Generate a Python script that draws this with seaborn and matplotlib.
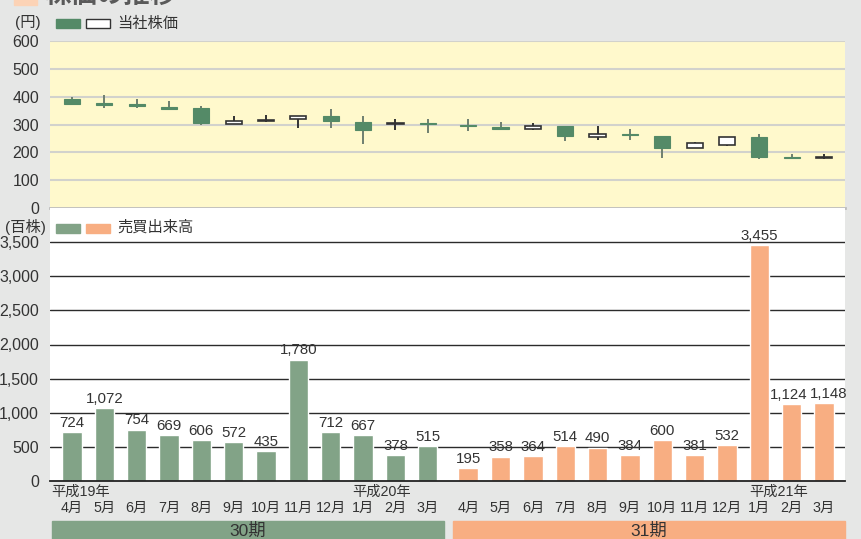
import matplotlib
matplotlib.use("Agg")
import matplotlib.pyplot as plt
import matplotlib.patches as mpatches
import matplotlib.transforms as mtransforms
import numpy as np
import pandas as pd
import seaborn as sns

# ---- data -------------------------------------------------------------
months = ["4月", "5月", "6月", "7月", "8月", "9月", "10月", "11月", "12月", "1月", "2月", "3月"]
periods = ["30期"] * 12 + ["31期"] * 12

# monthly share price (円)
price_open = [390, 376, 373, 364, 361, 303, 312, 320, 331, 310, 301, 304,
              298, 292, 284, 296, 255, 267, 260, 214, 225, 256, 185, 178]
price_high = [399, 407, 392, 386, 368, 329, 334, 331, 354, 330, 320, 320,
              318, 310, 306, 296, 295, 285, 260, 238, 256, 267, 194, 193]
price_low = [372, 359, 360, 351, 300, 302, 309, 286, 286, 229, 279, 271,
             276, 282, 279, 240, 243, 243, 181, 214, 222, 177, 175, 175]
price_close = [373, 369, 366, 355, 304, 313, 316, 331, 312, 279, 304, 302,
               295, 283, 296, 258, 267, 261, 214, 234, 256, 185, 179, 183]

# monthly trading volume (百株)
volume = [724, 1072, 754, 669, 606, 572, 435, 1780, 712, 667, 378, 515,
          195, 358, 364, 514, 490, 384, 600, 381, 532, 3455, 1124, 1148]

year_labels = ["平成19年", "平成20年", "平成21年"]
year_label_index = [0, 9, 21]

# ---- style ------------------------------------------------------------
sns.set_theme(style="white")
plt.rcParams["font.family"] = ["Liberation Sans", "Noto Sans CJK JP", "DejaVu Sans"]

BG = "#e6e7e6"
YELLOW = "#fff9cc"
CANDLE_GREEN = "#548a67"
BAR_GREEN = "#82a387"
BAR_ORANGE = "#f8ae82"
TEXT = "#333333"

W, H = 862, 539
fig = plt.figure(figsize=(W / 100, H / 100), dpi=100, facecolor=BG)


def fx(px):
    return px / W


def fy(py):
    return 1 - py / H


# x positions: two fiscal periods separated by a small gap
gap = 0.25
pos = np.array([i if i < 12 else i + gap for i in range(24)], dtype=float)
xlim = (-0.68, 23.25 + 0.65)

ax_left, ax_right = 50, 845
ax1 = fig.add_axes([fx(ax_left), fy(208), fx(ax_right - ax_left), (208 - 41) / H])
ax2 = fig.add_axes([fx(ax_left), fy(481), fx(ax_right - ax_left), (481 - 208) / H])

# ---- share price candlesticks -----------------------------------------
ax1.set_facecolor(YELLOW)
for y in range(100, 700, 100):
    ax1.axhline(y, color="#d2d2cc", lw=1.5, zorder=1)
for x, o, h, l, c in zip(pos, price_open, price_high, price_low, price_close):
    up = c >= o
    ax1.vlines(x, l, h, color="#333333" if up else "#6f7f70", lw=1.4, zorder=2)
    lo, hi = min(o, c), max(o, c)
    height = max(hi - lo, 1.5)
    if up:
        ax1.bar(x, height, bottom=lo, width=0.5, color="white",
                edgecolor="#333333", linewidth=1.2, zorder=3)
    else:
        ax1.bar(x, height, bottom=lo, width=0.5, color=CANDLE_GREEN,
                edgecolor=CANDLE_GREEN, linewidth=0.8, zorder=3)
ax1.set_xlim(*xlim)
ax1.set_ylim(0, 600)
ax1.set_yticks(range(0, 700, 100))
ax1.set_xticks([])
ax1.tick_params(axis="y", length=0, pad=8, labelsize=11.5, labelcolor=TEXT)
for s in ["top", "right", "left"]:
    ax1.spines[s].set_visible(False)
ax1.spines["bottom"].set_color("#bdbdbd")
ax1.spines["bottom"].set_linewidth(2)

# ---- trading volume bars ----------------------------------------------
df = pd.DataFrame({"pos": pos, "volume": volume, "period": periods})
ax2.set_facecolor("white")
for y in range(500, 4000, 500):
    ax2.axhline(y, color="#2b2b2b", lw=1.0, zorder=0)
sns.barplot(data=df, x="pos", y="volume", hue="period", native_scale=True,
            palette={"30期": BAR_GREEN, "31期": BAR_ORANGE}, width=0.6,
            dodge=False, legend=False, saturation=1, ax=ax2, zorder=2)
# the two last labels sit close together, so spread them apart slightly
label_dx = [0.0] * 22 + [-2.0, 3.0]
for x, v, dx in zip(pos, volume, label_dx):
    ax2.annotate(f"{v:,}", (x, v), xytext=(dx, 1.5), textcoords="offset points",
                 ha="center", va="bottom", fontsize=10.8, color=TEXT,
                 zorder=3, annotation_clip=False)
ax2.set_xlim(*xlim)
ax2.set_ylim(0, 4000)
ax2.set_yticks(range(0, 4000, 500))
ax2.set_yticklabels([f"{v:,}" for v in range(0, 4000, 500)])
ax2.set_xticks([])
ax2.set_xlabel("")
ax2.set_ylabel("")
ax2.tick_params(axis="y", length=0, pad=8, labelsize=11.5, labelcolor=TEXT)
for s in ["top", "right", "left"]:
    ax2.spines[s].set_visible(False)
ax2.spines["bottom"].set_color("#222222")
ax2.spines["bottom"].set_linewidth(1.3)

# month / year labels under the bars
trans = mtransforms.blended_transform_factory(ax2.transData, ax2.transAxes)
for i, x in enumerate(pos):
    ax2.text(x, (481 - 508) / 273, months[i % 12], transform=trans,
             ha="center", va="center", fontsize=10.3, color=TEXT, clip_on=False)
for lbl, idx in zip(year_labels, year_label_index):
    off = -0.65 if idx == 0 else -0.32
    ax2.text(pos[idx] + off, (481 - 492) / 273, lbl, transform=trans,
             ha="left", va="center", fontsize=10.3, color=TEXT, clip_on=False)

# fiscal period bands
fig.patches.append(mpatches.Rectangle((fx(52), 0), fx(444 - 52), fy(521),
                                      transform=fig.transFigure, color=BAR_GREEN))
fig.patches.append(mpatches.Rectangle((fx(453), 0), fx(845 - 453), fy(521),
                                      transform=fig.transFigure, color=BAR_ORANGE))
fig.text(fx(248), fy(531), "30期", ha="center", va="center", fontsize=12.5, color=TEXT)
fig.text(fx(649), fy(531), "31期", ha="center", va="center", fontsize=12.5, color=TEXT)

# ---- section heading (clipped at the top edge) -------------------------
fig.patches.append(mpatches.Rectangle((fx(14), fy(5)), fx(23), fy(-10) - fy(5),
                                      transform=fig.transFigure, color="#fcd3b6"))
fig.text(fx(44), fy(8), "株価の推移", ha="left", va="bottom", fontsize=19,
         color="#5a5a5a", fontweight="bold")

# ---- legends and unit labels -------------------------------------------
def legend_box(x0, yc, color, edge=None):
    fig.patches.append(mpatches.Rectangle((fx(x0), fy(yc + 4.5)), fx(24), 9 / H,
                                          transform=fig.transFigure,
                                          facecolor=color,
                                          edgecolor=edge if edge else color,
                                          linewidth=1))

fig.text(fx(28), fy(22), "(円)", ha="center", va="center", fontsize=11, color=TEXT)
legend_box(56, 23.5, CANDLE_GREEN)
legend_box(86, 23.5, "white", "#333333")
fig.text(fx(117), fy(23.5), "当社株価", ha="left", va="center", fontsize=11, color=TEXT)

fig.text(fx(25), fy(227), "(百株)", ha="center", va="center", fontsize=11, color=TEXT)
legend_box(56, 228, BAR_GREEN)
legend_box(86, 228, BAR_ORANGE)
fig.text(fx(117), fy(228), "売買出来高", ha="left", va="center", fontsize=11, color=TEXT)

fig.savefig("out.png", dpi=100, facecolor=BG)
